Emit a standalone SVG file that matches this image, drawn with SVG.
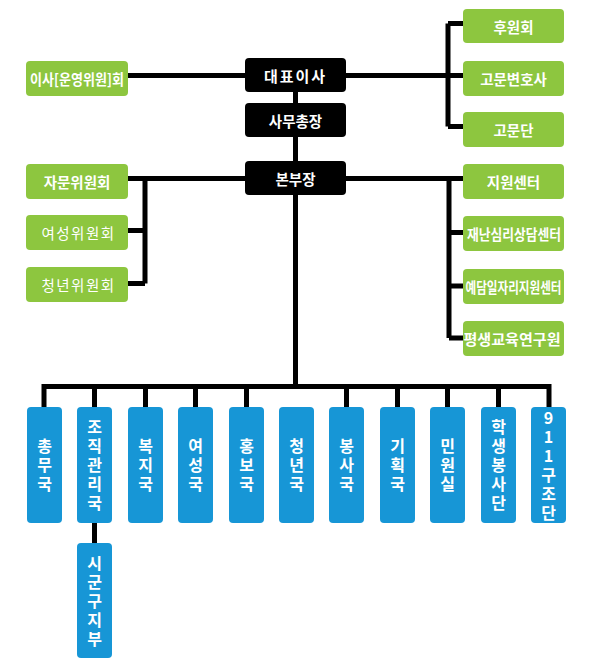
<svg xmlns="http://www.w3.org/2000/svg" width="595" height="666" viewBox="0 0 595 666">
<style>
.g{fill:#8dc63f}
.k{fill:#000}
.b{fill:#1796d6}
.t{fill:#fff;font-family:"Noto Sans CJK KR","Noto Sans",sans-serif;font-weight:bold;font-size:14.5px;text-anchor:middle;dominant-baseline:central}
.r{font-weight:normal;letter-spacing:1.5px}
.v{font-size:16px;writing-mode:vertical-rl;text-orientation:upright;letter-spacing:3px}
.c{fill:none;stroke:#000;stroke-width:5;stroke-linecap:butt;stroke-linejoin:miter}
</style>
<rect width="595" height="666" fill="#fff"/>
<g id="connectors">
<path class="c" d="M128 75.5H463M448 23.5V126.5M448 23.5H463M448 126.5H463M448 75.5H463"/>
<path class="c" d="M128 178.5H463M145 178.5V283.5M128 230.5H145M128 283.5H145M449 178.5V338M449 232.5H463M449 286H463M449 338H463"/>
<path class="c" d="M295.5 75V386.5M41.5 386.5H551.5M44 384V407M94.5 386V407M145.5 386V407M195.5 386V407M246.5 386V407M346.5 386V407M397.5 386V407M447.5 386V407M498.5 386V407M549 384V407M94.5 523V543"/>
</g>
<g id="n_board"><rect class="g" x="26" y="61" width="102" height="35" rx="4"/><text class="t" x="77" y="78.5" textLength="94" lengthAdjust="spacingAndGlyphs">이사[운영위원]회</text></g>
<g id="n_ceo"><rect class="k" x="245" y="58" width="101" height="34" rx="4"/><text class="t" x="295.5" y="75" style="font-size:15px;letter-spacing:2px">대표이사</text></g>
<g id="n_sg"><rect class="k" x="245" y="103" width="101" height="34" rx="4"/><text class="t" x="295.5" y="120">사무총장</text></g>
<g id="n_hq"><rect class="k" x="245" y="161" width="101" height="34" rx="4"/><text class="t" x="295.5" y="178">본부장</text></g>
<g id="n_sponsor"><rect class="g" x="463" y="9" width="101" height="34" rx="4"/><text class="t" x="513.5" y="26">후원회</text></g>
<g id="n_lawyer"><rect class="g" x="463" y="61" width="101" height="35" rx="4"/><text class="t" x="513.5" y="78.5">고문변호사</text></g>
<g id="n_advisors"><rect class="g" x="463" y="112" width="101" height="35" rx="4"/><text class="t" x="513.5" y="129.5">고문단</text></g>
<g id="n_advcomm"><rect class="g" x="26" y="164" width="102" height="35" rx="4"/><text class="t" x="77" y="181.5">자문위원회</text></g>
<g id="n_women"><rect class="g" x="26" y="215" width="102" height="35" rx="4"/><text class="t r" x="78.5" y="232.5">여성위원회</text></g>
<g id="n_youth"><rect class="g" x="26" y="267" width="102" height="35" rx="4"/><text class="t r" x="78.5" y="284.5">청년위원회</text></g>
<g id="n_support"><rect class="g" x="463" y="164" width="101" height="35" rx="4"/><text class="t" x="513.5" y="181.5">지원센터</text></g>
<g id="n_trauma"><rect class="g" x="463" y="216" width="101" height="35" rx="4"/><text class="t" x="514" y="233.5" textLength="94" lengthAdjust="spacingAndGlyphs">재난심리상담센터</text></g>
<g id="n_jobs"><rect class="g" x="463" y="269" width="101" height="35" rx="4"/><text class="t" x="513.5" y="286.5" textLength="96" lengthAdjust="spacingAndGlyphs">예담일자리지원센터</text></g>
<g id="n_edu"><rect class="g" x="463" y="321" width="101" height="35" rx="4"/><text class="t" x="512" y="338.5" textLength="97" lengthAdjust="spacingAndGlyphs">평생교육연구원</text></g>
<g id="d1"><rect class="b" x="27" y="407" width="35" height="116" rx="4"/><text class="t v" x="44.5" y="466.5">총무국</text></g>
<g id="d2"><rect class="b" x="77" y="407" width="35" height="116" rx="4"/><text class="t v" x="94.5" y="466.5">조직관리국</text></g>
<g id="d2a"><rect class="b" x="77" y="543" width="35" height="115" rx="4"/><text class="t v" x="94.5" y="602">시군구지부</text></g>
<g id="d3"><rect class="b" x="128" y="407" width="35" height="116" rx="4"/><text class="t v" x="145.5" y="466.5">복지국</text></g>
<g id="d4"><rect class="b" x="178" y="407" width="35" height="116" rx="4"/><text class="t v" x="195.5" y="466.5">여성국</text></g>
<g id="d5"><rect class="b" x="229" y="407" width="35" height="116" rx="4"/><text class="t v" x="246.5" y="466.5">홍보국</text></g>
<g id="d6"><rect class="b" x="279" y="407" width="35" height="116" rx="4"/><text class="t v" x="296.5" y="466.5">청년국</text></g>
<g id="d7"><rect class="b" x="329" y="407" width="35" height="116" rx="4"/><text class="t v" x="346.5" y="466.5">봉사국</text></g>
<g id="d8"><rect class="b" x="380" y="407" width="35" height="116" rx="4"/><text class="t v" x="397.5" y="466.5">기획국</text></g>
<g id="d9"><rect class="b" x="430" y="407" width="35" height="116" rx="4"/><text class="t v" x="447.5" y="466.5">민원실</text></g>
<g id="d10"><rect class="b" x="481" y="407" width="35" height="116" rx="4"/><text class="t v" x="498.5" y="466.5">학생봉사단</text></g>
<g id="d11"><rect class="b" x="531" y="407" width="35" height="116" rx="4"/><text class="t v" x="548.5" y="466.5">911구조단</text></g>
</svg>
